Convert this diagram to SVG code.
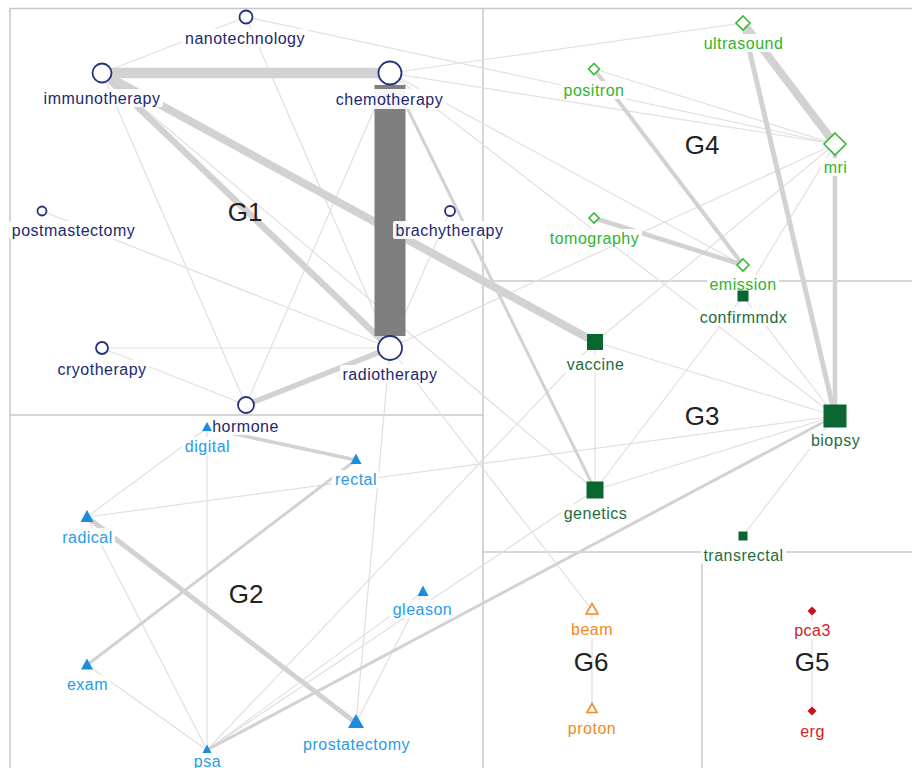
<svg xmlns="http://www.w3.org/2000/svg" width="912" height="768" viewBox="0 0 912 768">
<style>
text{font-family:"Liberation Sans",Arial,sans-serif;font-size:16px;letter-spacing:0.5px;text-anchor:middle}
.bg{fill:#fff;fill-opacity:0.92}
.grp{font-size:26px;letter-spacing:0;fill:#222}
.div{stroke:#c8c8c8;stroke-width:1.5;fill:none}
.e{stroke:#e0e0e0;stroke-width:1.2;fill:none}
.t{stroke:#d2d2d2;fill:none}
.g1 circle{fill:#fff;stroke:#26317c;stroke-width:1.8}
.g1 text{fill:#1d2870}
.g4 polygon{fill:#fff;stroke:#36b936;stroke-width:1.6}
.g4 text{fill:#2eb52e}
.g3 rect.n{fill:#0a6630}
.g3 text{fill:#1d6e3d}
.g2 polygon{fill:#1a8de0}
.g2 text{fill:#2a9be8}
.g6 polygon{fill:#fff;stroke:#f28c28;stroke-width:1.6}
.g6 text{fill:#f08a24}
.g5 polygon{fill:#cc0f1a}
.g5 text{fill:#d0202a}
</style>
<rect x="0" y="0" width="912" height="768" fill="#fff"/>
<g id="frame">
<path class="div" d="M10,780 V8.5 H930"/>
<path class="div" d="M483,8 V768"/>
<path class="div" d="M10,415 H483"/>
<path class="div" d="M483,281 H912"/>
<path class="div" d="M483,552 H912"/>
<path class="div" d="M702,552 V768"/>
</g>
<g id="connectors">
<line class="e" x1="246" y1="17" x2="102" y2="73"/>
<line class="e" x1="246" y1="17" x2="390" y2="348"/>
<line class="e" x1="246" y1="17" x2="835" y2="144"/>
<line class="e" x1="102" y1="73" x2="246" y2="405"/>
<line class="e" x1="102" y1="73" x2="595" y2="490"/>
<line class="e" x1="390" y1="73" x2="743" y2="23"/>
<line class="e" x1="390" y1="73" x2="835" y2="144"/>
<line class="e" x1="390" y1="73" x2="246" y2="405"/>
<line class="e" x1="390" y1="73" x2="743" y2="265"/>
<line class="e" x1="390" y1="73" x2="835" y2="416"/>
<line class="e" x1="594" y1="69" x2="835" y2="144"/>
<line class="e" x1="42" y1="211" x2="390" y2="348"/>
<line class="e" x1="102" y1="348" x2="390" y2="348"/>
<line class="e" x1="102" y1="348" x2="246" y2="405"/>
<line class="e" x1="450" y1="211" x2="390" y2="348"/>
<line class="e" x1="390" y1="348" x2="835" y2="144"/>
<line class="e" x1="390" y1="348" x2="356" y2="723"/>
<line class="e" x1="390" y1="348" x2="592" y2="610"/>
<line class="e" x1="835" y1="144" x2="595" y2="342"/>
<line class="e" x1="835" y1="144" x2="743" y2="296"/>
<line class="e" x1="743" y1="296" x2="835" y2="416"/>
<line class="e" x1="743" y1="296" x2="595" y2="490"/>
<line class="e" x1="595" y1="342" x2="595" y2="490"/>
<line class="e" x1="595" y1="342" x2="835" y2="416"/>
<line class="e" x1="595" y1="490" x2="835" y2="416"/>
<line class="e" x1="743" y1="536" x2="835" y2="416"/>
<line class="e" x1="87" y1="517" x2="835" y2="416"/>
<line class="e" x1="87" y1="517" x2="207" y2="750"/>
<line class="e" x1="207" y1="428" x2="207" y2="750"/>
<line class="e" x1="207" y1="428" x2="87" y2="517"/>
<line class="e" x1="87" y1="665" x2="207" y2="750"/>
<line class="e" x1="207" y1="750" x2="595" y2="342"/>
<line class="e" x1="207" y1="750" x2="595" y2="490"/>
<line class="e" x1="207" y1="750" x2="423" y2="592"/>
<line class="e" x1="356" y1="723" x2="423" y2="592"/>
<line class="e" x1="592" y1="610" x2="592" y2="709"/>
<line class="e" x1="812" y1="611" x2="812" y2="711"/>
<line class="t" stroke-width="3" x1="390" y1="73" x2="595" y2="490"/>
<line class="t" stroke-width="3" x1="207" y1="750" x2="835" y2="416"/>
<line class="t" stroke-width="3" x1="87" y1="665" x2="356" y2="460"/>
<line class="t" stroke-width="3.5" x1="207" y1="428" x2="356" y2="460"/>
<line class="t" stroke-width="4" x1="594" y1="69" x2="743" y2="265"/>
<line class="t" stroke-width="4.5" x1="594" y1="218" x2="743" y2="265"/>
<line class="t" stroke-width="5" x1="87" y1="517" x2="356" y2="723"/>
<line class="t" stroke-width="4.5" x1="835" y1="144" x2="835" y2="416"/>
<line class="t" stroke-width="5" x1="743" y1="23" x2="835" y2="416"/>
<line class="t" stroke-width="5.5" x1="390" y1="348" x2="246" y2="405"/>
<line class="t" stroke-width="8" x1="743" y1="23" x2="835" y2="144"/>
<line class="t" stroke-width="6.5" x1="102" y1="73" x2="390" y2="348"/>
<line class="t" stroke-width="8" x1="102" y1="73" x2="595" y2="342"/>
<line class="t" stroke-width="10.5" x1="102" y1="73" x2="390" y2="73"/>
<line stroke="#7f7f7f" stroke-width="31" x1="390" y1="85" x2="390" y2="336"/>
</g>
<g id="labels">
<text class="grp" x="245" y="221">G1</text>
<text class="grp" x="246" y="603">G2</text>
<text class="grp" x="702" y="425">G3</text>
<text class="grp" x="702" y="154">G4</text>
<text class="grp" x="812" y="671">G5</text>
<text class="grp" x="591" y="671">G6</text>
</g>
<g class="g1">
<g id="nanotechnology"><rect class="bg" x="182" y="29" width="126" height="18" rx="2"/><text x="245" y="43.5">nanotechnology</text><circle cx="246" cy="17" r="6.5"/></g>
<g id="immunotherapy"><rect class="bg" x="41" y="89" width="122" height="18" rx="2"/><text x="102" y="103.5">immunotherapy</text><circle cx="102" cy="73" r="9.5"/></g>
<g id="chemotherapy"><rect class="bg" x="333" y="89" width="113" height="20" rx="2"/><text x="389.5" y="104.5">chemotherapy</text><circle cx="390" cy="73" r="11.5"/></g>
<g id="postmastectomy"><rect class="bg" x="9" y="221" width="129" height="18" rx="2"/><text x="73.5" y="235.5">postmastectomy</text><circle cx="42" cy="211" r="4.5"/></g>
<g id="brachytherapy"><rect class="bg" x="393" y="221" width="113" height="18" rx="2"/><text x="449.5" y="235.5">brachytherapy</text><circle cx="450" cy="211" r="5"/></g>
<g id="cryotherapy"><rect class="bg" x="55" y="360" width="94" height="18" rx="2"/><text x="102" y="374.5">cryotherapy</text><circle cx="102" cy="348" r="6"/></g>
<g id="radiotherapy"><rect class="bg" x="340" y="365" width="100" height="18" rx="2"/><text x="390" y="379.5">radiotherapy</text><circle cx="390" cy="348" r="12"/></g>
<g id="hormone"><rect class="bg" x="209" y="417" width="72" height="18" rx="2"/><text x="245.5" y="431.5">hormone</text><circle cx="246" cy="405" r="8"/></g>
</g>
<g class="g4">
<g id="ultrasound"><rect class="bg" x="701" y="34" width="85" height="18" rx="2"/><text x="743.5" y="48.5">ultrasound</text><polygon points="743,16 750,23 743,30 736,23"/></g>
<g id="positron"><rect class="bg" x="561" y="81" width="66" height="18" rx="2"/><text x="594" y="95.5">positron</text><polygon points="594,63.5 599.5,69 594,74.5 588.5,69"/></g>
<g id="mri"><rect class="bg" x="821" y="158" width="29" height="18" rx="2"/><text x="835.5" y="172.5">mri</text><polygon points="835,133 846,144 835,155 824,144"/></g>
<g id="tomography"><rect class="bg" x="547" y="229" width="95" height="18" rx="2"/><text x="594.5" y="243.5">tomography</text><polygon points="594,213 599,218 594,223 589,218"/></g>
<g id="emission"><rect class="bg" x="707" y="275" width="72" height="18" rx="2"/><text x="743" y="289.5">emission</text><polygon points="743,259 749,265 743,271 737,265"/></g>
</g>
<g class="g3">
<g id="confirmmdx"><rect class="bg" x="697" y="308" width="93" height="18" rx="2"/><text x="743.5" y="322.5">confirmmdx</text><rect class="n" x="737.5" y="290.5" width="11" height="11"/></g>
<g id="vaccine"><rect class="bg" x="564" y="355" width="63" height="18" rx="2"/><text x="595.5" y="369.5">vaccine</text><rect class="n" x="587" y="334" width="16" height="16"/></g>
<g id="biopsy"><rect class="bg" x="808" y="431" width="54" height="18" rx="2"/><text x="835.5" y="445.5">biopsy</text><rect class="n" x="823.5" y="404.5" width="23" height="23"/></g>
<g id="genetics"><rect class="bg" x="561" y="504" width="69" height="18" rx="2"/><text x="595.5" y="518.5">genetics</text><rect class="n" x="586.5" y="481.5" width="17" height="17"/></g>
<g id="transrectal"><rect class="bg" x="701" y="546" width="85" height="18" rx="2"/><text x="743.5" y="560.5">transrectal</text><rect class="n" x="738.5" y="531.5" width="9" height="9"/></g>
</g>
<g class="g2">
<g id="digital"><rect class="bg" x="182" y="437" width="50" height="18" rx="2"/><text x="207.5" y="451.5">digital</text><polygon points="207,422 212,431 202,431"/></g>
<g id="rectal"><rect class="bg" x="332" y="470" width="47" height="18" rx="2"/><text x="356" y="484.5">rectal</text><polygon points="356,453.5 361.5,464 350.5,464"/></g>
<g id="radical"><rect class="bg" x="59" y="528" width="56" height="18" rx="2"/><text x="87.5" y="542.5">radical</text><polygon points="87,510 93.5,522 80.5,522"/></g>
<g id="gleason"><rect class="bg" x="390" y="600" width="65" height="18" rx="2"/><text x="422.5" y="614.5">gleason</text><polygon points="423,585.5 428.5,596 417.5,596"/></g>
<g id="exam"><rect class="bg" x="64" y="675" width="46" height="18" rx="2"/><text x="87.5" y="689.5">exam</text><polygon points="87,658.5 93,669.5 81,669.5"/></g>
<g id="prostatectomy"><rect class="bg" x="300" y="735" width="112" height="18" rx="2"/><text x="356.5" y="749.5">prostatectomy</text><polygon points="356,714 364,728 348,728"/></g>
<g id="psa"><rect class="bg" x="191" y="752" width="32" height="18" rx="2"/><text x="207.5" y="766.5">psa</text><polygon points="207,744.5 211.5,753 202.5,753"/></g>
</g>
<g class="g6">
<g id="beam"><rect class="bg" x="568" y="620" width="47" height="18" rx="2"/><text x="592" y="634.5">beam</text><polygon points="592,603.5 598,614 586,614"/></g>
<g id="proton"><rect class="bg" x="565" y="719" width="53" height="18" rx="2"/><text x="592" y="733.5">proton</text><polygon points="592,703.5 597,712.5 587,712.5"/></g>
</g>
<g class="g5">
<g id="pca3"><rect class="bg" x="791" y="621" width="42" height="18" rx="2"/><text x="812.5" y="635.5">pca3</text><polygon points="812,606.5 816.5,611 812,615.5 807.5,611"/></g>
<g id="erg"><rect class="bg" x="797" y="722" width="30" height="18" rx="2"/><text x="812.5" y="736.5">erg</text><polygon points="812,706.5 816.5,711 812,715.5 807.5,711"/></g>
</g>
</svg>
